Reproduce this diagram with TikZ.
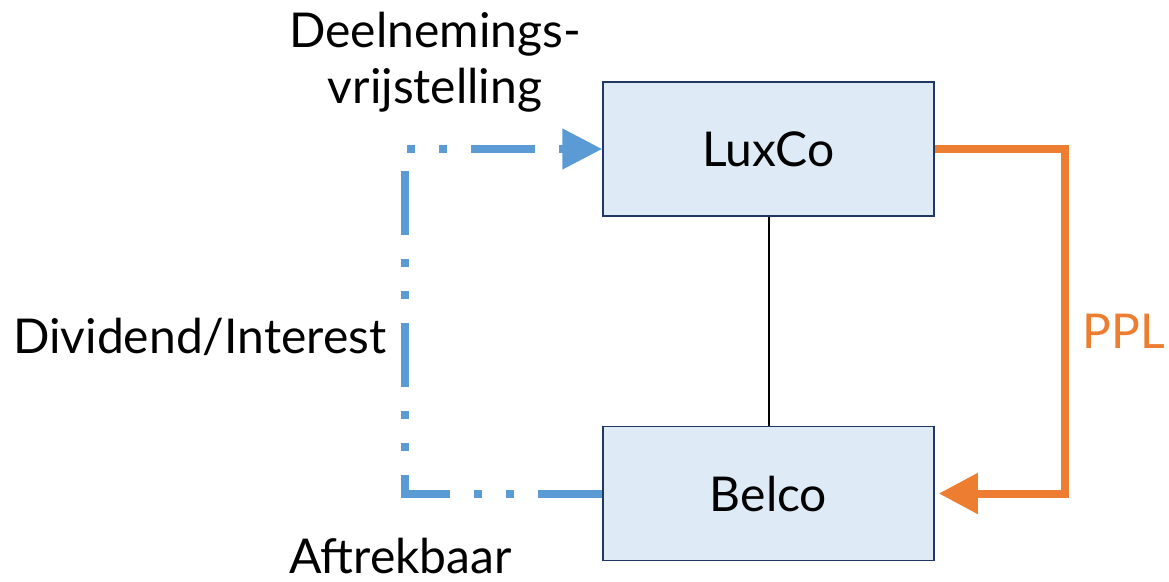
\documentclass[tikz,border=0pt]{standalone}
\usepackage{fontspec}
\setmainfont{Lato}
\usetikzlibrary{arrows.meta}
\definecolor{boxfill}{HTML}{DEEBF7}
\definecolor{boxline}{HTML}{1F3864}
\definecolor{flowblue}{HTML}{5B9BD5}
\definecolor{floworange}{HTML}{ED7D31}
\begin{document}
\begin{tikzpicture}[x=1pt,y=-1pt,
  entity/.style={draw=boxline, line width=1.5pt, fill=boxfill,
    minimum width=331pt, minimum height=134pt, inner sep=0pt,
    font=\fontsize{48}{56}\selectfont},
  lbl/.style={inner sep=0pt, font=\fontsize{48}{56}\selectfont},
  dividendflow/.style={flowblue, line width=8pt,
    dash pattern=on 64pt off 24pt on 8pt off 24pt on 8pt off 24pt,
    -{Triangle[length=40pt,width=39pt]}},
  pplflow/.style={floworange, line width=8pt,
    -{Triangle[length=39pt,width=39pt]}}]
\useasboundingbox (0,0) rectangle (1169,581);

% companies
\node[entity] (lux) at (768.5,149) {LuxCo};
\node[entity] (bel) at (768.5,493.5) {Belco};
\draw[line width=2pt] (lux.south) -- (bel.north);

% dividend / interest flow
\coordinate (bend) at (405,148);
\draw[dividendflow] (bel.west) -- (bel.west -| bend) -- (lux.west -| bend) -- (lux.west);

% PPL flow
\coordinate (pplx) at (1065,149);
\coordinate (beltip) at ([xshift=4pt]bel.east);
\draw[pplflow] (lux.east) -- (lux.east -| pplx) -- (beltip -| pplx) -- (beltip);

% labels
\node[lbl, anchor=base] (exempt1) at (435,47) {Deelnemings-};
\node[lbl, anchor=base] (exempt2) at (435,103) {vrijstelling};
\node[lbl, anchor=base west] (divint) at (13,353) {Dividend/Interest};
\node[lbl, anchor=base west] (deduct) at (289,573) {Aftrekbaar};
\node[lbl, anchor=base east, text=floworange] (ppl) at (1165,348) {PPL};
\end{tikzpicture}
\end{document}
